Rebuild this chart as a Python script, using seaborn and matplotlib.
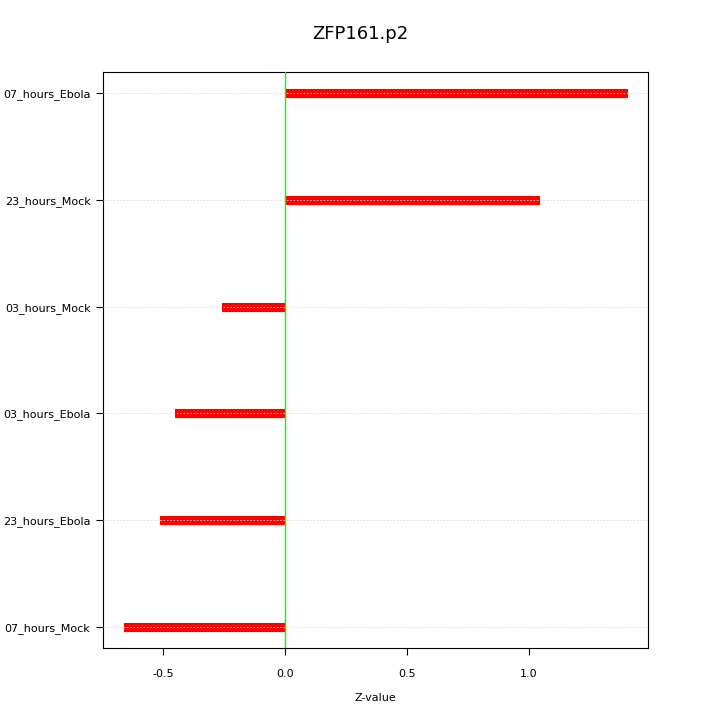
import matplotlib
matplotlib.use('Agg')
import matplotlib.pyplot as plt
import seaborn as sns

labels = ['07_hours_Ebola', '23_hours_Mock', '03_hours_Mock',
          '03_hours_Ebola', '23_hours_Ebola', '07_hours_Mock']
zvals = [1.402, 1.041, -0.258, -0.451, -0.512, -0.660]
xticks = [-0.5, 0.0, 0.5, 1.0]

sns.set_style('white')
plt.rcParams['font.family'] = ['DejaVu Sans']
plt.rcParams['text.color'] = 'black'
plt.rcParams['xtick.color'] = 'black'
plt.rcParams['ytick.color'] = 'black'
plt.rcParams['axes.labelcolor'] = 'black'

fig = plt.figure(figsize=(7.2, 7.2), dpi=100)
ax = fig.add_axes([0.143, 0.1, 0.757, 0.8])

sns.barplot(x=zvals, y=labels, orient='h', color='#ff0000', saturation=1,
            width=0.075, edgecolor='#ff0000', linewidth=0.8, ax=ax, zorder=2)

# dotted guide lines drawn over the bars
for i in range(len(labels)):
    ax.axhline(i, color='#d8d8d8', linestyle=(0, (2, 2)), linewidth=0.6, zorder=3)
ax.axvline(0, color='#00ff00', linewidth=1, zorder=4)

ax.set_xlim(-0.745, 1.487)
ax.set_ylim(5.2, -0.2)
ax.set_xticks(xticks)
ax.set_xticklabels(['-0.5', '0.0', '0.5', '1.0'])
ax.tick_params(axis='both', direction='out', length=5, width=0.8,
               labelsize=8, colors='black', left=True, bottom=True)
ax.tick_params(axis='y', pad=4)
ax.tick_params(axis='x', pad=10)
for s in ax.spines.values():
    s.set_color('black')
    s.set_linewidth(0.8)

ax.set_xlabel('Z-value', fontsize=8, labelpad=10, color='black')
ax.set_ylabel('')
fig.suptitle('ZFP161.p2', fontsize=13, y=0.965, color='black')

fig.savefig('out.png', dpi=100)
